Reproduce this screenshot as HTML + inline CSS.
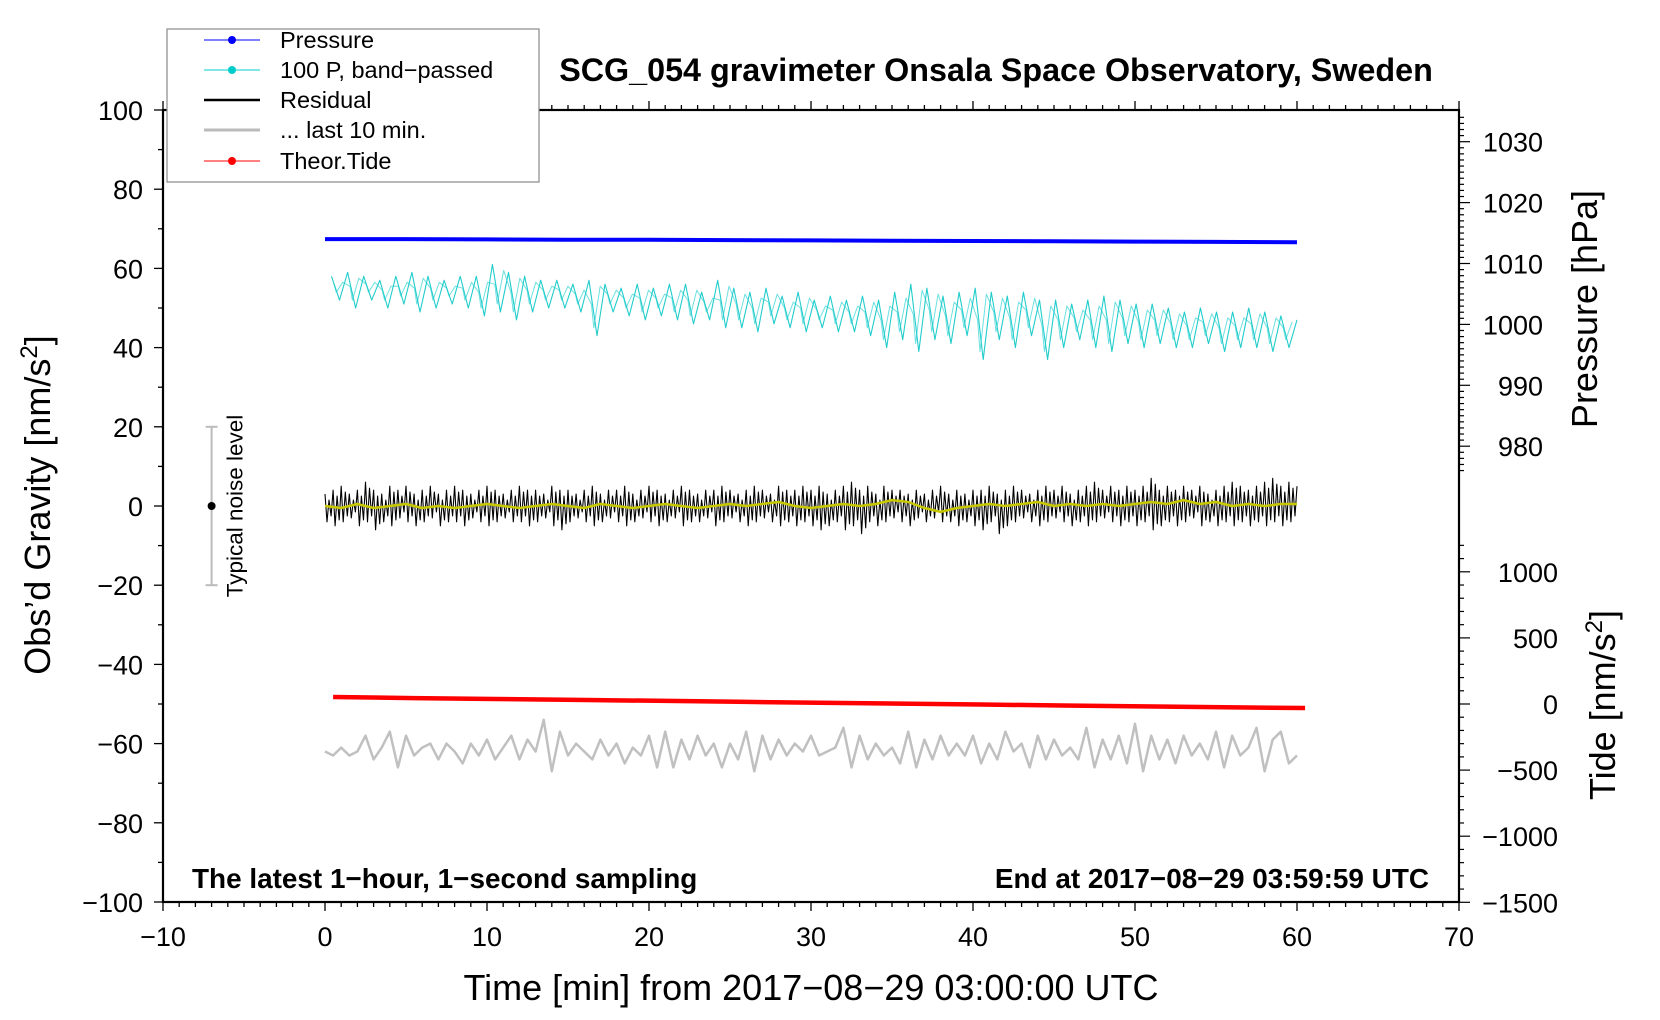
<!DOCTYPE html>
<html><head><meta charset="utf-8"><style>
html,body{margin:0;padding:0;background:#fff;}
svg{display:block;font-family:"Liberation Sans",Arial,sans-serif;}
</style></head><body>
<svg id="chart" width="1660" height="1020" viewBox="0 0 1660 1020" xmlns="http://www.w3.org/2000/svg">
<rect width="1660" height="1020" fill="#fff"/>
<g id="marks"></g>
<g id="axes"></g>
<text x="996" y="81" text-anchor="middle" font-size="32.3" font-weight="bold">SCG_054 gravimeter Onsala Space Observatory, Sweden</text>
<text x="192" y="888" font-size="27.9" font-weight="bold">The latest 1−hour, 1−second sampling</text>
<text x="1429" y="888" text-anchor="end" font-size="27.9" font-weight="bold">End at 2017−08−29 03:59:59 UTC</text>
<text x="811" y="1000" text-anchor="middle" font-size="36">Time [min] from 2017−08−29 03:00:00 UTC</text>
<text transform="translate(50,505) rotate(-90)" text-anchor="middle" font-size="36">Obs’d Gravity [nm/s<tspan font-size="24" dy="-13">2</tspan><tspan dy="13">]</tspan></text>
<text transform="translate(1597,309) rotate(-90)" text-anchor="middle" font-size="36">Pressure [hPa]</text>
<text transform="translate(1615,705) rotate(-90)" text-anchor="middle" font-size="36">Tide [nm/s<tspan font-size="24" dy="-13">2</tspan><tspan dy="13">]</tspan></text>
<g>
<rect x="167" y="29" width="372" height="153" fill="#fff" stroke="#888" stroke-width="1.2"/>
<line x1="204" y1="40" x2="260" y2="40" stroke="#00f" stroke-width="1"/><circle cx="232" cy="40" r="4" fill="#00f"/>
<text x="280" y="48" font-size="23.5">Pressure</text>
<line x1="204" y1="70" x2="260" y2="70" stroke="#00cccc" stroke-width="1"/><circle cx="232" cy="70" r="4" fill="#00cccc"/>
<text x="280" y="78" font-size="23.5">100 P, band−passed</text>
<line x1="204" y1="100" x2="260" y2="100" stroke="#000" stroke-width="2.5"/>
<text x="280" y="108" font-size="23.5">Residual</text>
<line x1="204" y1="130" x2="260" y2="130" stroke="#bbb" stroke-width="3"/>
<text x="280" y="138" font-size="23.5">... last 10 min.</text>
<line x1="204" y1="161" x2="260" y2="161" stroke="#f00" stroke-width="1"/><circle cx="232" cy="161" r="4" fill="#f00"/>
<text x="280" y="169" font-size="23.5">Theor.Tide</text>
</g>
</svg>
<script>
const pressureVals=[1014.0,1014.0,1013.95,1013.9,1013.9,1013.85,1013.8,1013.75,1013.7,1013.65,1013.6,1013.55,1013.5];
const tideVals=[53,45,38,31,24,17,10,3,-4,-11,-18,-25,-30];
const cyanHi=[58,59,58,57,58,59,58,57,58,58,61,59,58,57,57,56,57,56,55,56,55,56,56,54,57,55,54,55,53,54,52,53,52,53,52,54,56,55,53,54,55,54,53,54,52,52,51,52,53,52,51,51,50,49,50,49,49,50,49,48,47];
const cyanLo=[52,50,52,50,51,49,50,51,50,48,49,47,49,50,50,49,43,49,48,47,48,47,46,47,45,45,44,46,45,44,45,44,44,43,40,42,39,42,41,43,37,42,40,43,37,40,42,40,39,41,40,41,40,40,41,39,40,40,39,40,42];
const resHi=[3,4,5,3,4,6,4,3,5,4,5,3,4,5,3,4,5,4,3,4,5,4,3,4,5,4,4,3,5,4,4,3,4,5,3,4,4,5,3,4,5,4,3,4,5,4,3,4,4,5,4,3,4,5,4,3,5,4,4,5,4,5,3,4,5,6,4,5,3,5,4,4,3,4,3,4,5,3,4,3,4,4,5,3,4,5,4,3,4,5,4,5,3,4,5,6,4,5,4,5,4,5,7,4,5,4,5,4,5,3,4,5,6,5,4,5,6,7,5,6,5];
const resLo=[-4,-5,-4,-3,-5,-4,-6,-4,-5,-3,-4,-5,-4,-3,-5,-4,-4,-5,-3,-4,-5,-4,-3,-4,-4,-5,-4,-3,-5,-6,-4,-3,-4,-5,-4,-3,-4,-5,-4,-3,-4,-5,-4,-3,-5,-4,-4,-3,-5,-4,-3,-4,-5,-4,-3,-4,-5,-4,-5,-4,-5,-6,-5,-4,-6,-5,-7,-4,-5,-4,-3,-4,-5,-3,-4,-3,-4,-4,-5,-4,-5,-6,-4,-7,-5,-4,-3,-4,-5,-4,-3,-4,-5,-4,-5,-4,-3,-4,-5,-4,-5,-4,-6,-5,-4,-5,-4,-3,-5,-4,-5,-4,-5,-4,-5,-4,-5,-4,-5,-4,-3];
const smoothVals=[0,-0.5,0.5,-0.5,0,0.5,-0.5,0,-0.5,0,0.5,0,-0.5,0,0.5,0,-0.5,0.5,0,-0.5,0,0.5,0,-0.5,0,0.5,0,0.5,1,0,-0.5,0,0.5,0,0.5,1.5,1,-0.5,-1.5,-0.5,0,0.5,0,0.5,1,0,0.5,0,0.5,0,0.5,1,0.5,1.5,0.5,1,0,0.5,0,0.5,0.5];
const grayVals=[-62,-63,-61,-63,-62,-58,-64,-61,-57,-66,-58,-63,-61,-60,-64,-60,-62,-65,-60,-63,-59,-64,-61,-58,-64,-59,-62,-54,-67,-57,-63,-60,-62,-64,-59,-63,-60,-65,-61,-63,-58,-66,-57,-66,-59,-64,-58,-63,-60,-66,-60,-64,-57,-67,-58,-64,-59,-63,-60,-62,-58,-63,-62,-61,-56,-66,-58,-64,-60,-63,-61,-65,-57,-66,-59,-64,-58,-63,-60,-63,-58,-65,-60,-64,-57,-62,-60,-66,-58,-64,-59,-63,-61,-64,-56,-66,-59,-64,-58,-65,-55,-67,-58,-64,-59,-65,-58,-63,-60,-64,-57,-66,-58,-63,-61,-56,-67,-59,-57,-65,-63];
const xTicks=[-10,0,10,20,30,40,50,60,70];
const yTicks=[100,80,60,40,20,0,-20,-40,-60,-80,-100];
const pTicks=[1030,1020,1010,1000,990,980];
const tTicks=[1000,500,0,-500,-1000,-1500];

const NS='http://www.w3.org/2000/svg';
const X=m=>163+(m+10)*16.2;
const Y=g=>110+(100-g)*3.96;
const YP=p=>141.7+(1030-p)*6.09;
const YT=t=>704-t*0.1322;
const marks=document.getElementById('marks'), axes=document.getElementById('axes');
function mk(tag,attrs,parent){const e=document.createElementNS(NS,tag);for(const k in attrs)e.setAttribute(k,attrs[k]);parent.appendChild(e);return e;}
function poly(pts,stroke,w,name){
  const e=mk('polyline',{points:pts.map(p=>p[0].toFixed(1)+','+p[1].toFixed(1)).join(' '),fill:'none',stroke:stroke,'stroke-width':w,'stroke-linejoin':'round'},marks);
  
  
  return e;
}
poly(pressureVals.map((v,i)=>[X(i*60/(pressureVals.length-1)),YP(v)]),'#00f',4,'pressure-line');
{const n=cyanHi.length;const st=59.6/(n-1);const x0=0.4;
 const pts=[];for(let i=0;i<n;i++){pts.push([X(x0+i*st),Y(cyanHi[i])]);if(i<n-1)pts.push([X(x0+i*st+st/2),Y(cyanLo[i])]);}
 const pts2=[];for(let i=0;i<n-1;i++){pts2.push([X(x0+i*st+0.15),Y((cyanHi[i]+cyanLo[i])/2+1)]);pts2.push([X(x0+i*st+st*0.3),Y(cyanLo[i]+2)]);pts2.push([X(x0+i*st+st*0.7),Y(cyanHi[i]-1.5)]);}
 poly(pts2,'#6ee0e0',1,'bandpassed-pressure-line-2');
 poly(pts,'#22cccc',1.1,'bandpassed-pressure-line');}
{const pts=[];const n=resHi.length;const st=60/(n-1);
 for(let i=0;i<n;i++){pts.push([X(i*st),Y(resHi[i])]);if(i<n-1){pts.push([X(i*st+st/4),Y(resLo[i])]);pts.push([X(i*st+st/2),Y(resHi[i]-1.5)]);pts.push([X(i*st+st*0.75),Y(resLo[i]+1.5)]);}}
 poly(pts,'#000',1.1,'residual-line');}
poly(smoothVals.map((v,i)=>[X(i*60/(smoothVals.length-1)),Y(v)]),'#c8c800',2.5,'residual-smoothed-line');
poly(tideVals.map((v,i)=>[X(0.5+i*5),YT(v)]),'#f00',4.5,'tide-line');
poly(grayVals.map((v,i)=>[X(i*60/(grayVals.length-1)),Y(v)]),'#c0c0c0',2.5,'last-10-min-line');
{const g=mk('g',{},marks);
 
 
 mk('line',{x1:X(-7),x2:X(-7),y1:Y(20),y2:Y(-20),stroke:'#bbb','stroke-width':2},g);
 mk('line',{x1:X(-7)-6,x2:X(-7)+6,y1:Y(20),y2:Y(20),stroke:'#bbb','stroke-width':2},g);
 mk('line',{x1:X(-7)-6,x2:X(-7)+6,y1:Y(-20),y2:Y(-20),stroke:'#bbb','stroke-width':2},g);
 mk('circle',{cx:X(-7),cy:Y(0),r:4,fill:'#000'},g);
 const t=mk('text',{transform:`translate(${X(-5.1)},${Y(0)}) rotate(-90)`,'text-anchor':'middle','font-size':22.5},g);
 t.textContent='Typical noise level';
 
 }
const L=X(-10),R=X(70),T=Y(100),B=Y(-100);
mk('rect',{x:L,y:T,width:R-L,height:B-T,fill:'none',stroke:'#000','stroke-width':2.2},axes);
for(let m=-10;m<=70;m++){const maj=m%10===0;const len=maj?9:5;
 mk('line',{x1:X(m),x2:X(m),y1:B,y2:B+len,stroke:'#000','stroke-width':1.3},axes);
 mk('line',{x1:X(m),x2:X(m),y1:T,y2:T-len,stroke:'#000','stroke-width':1.3},axes);}
xTicks.forEach(v=>{const t=mk('text',{x:X(v),y:946,'text-anchor':'middle','font-size':27},axes);t.textContent=(v<0?'−':'')+Math.abs(v);
 
 });
for(let g=-100;g<=100;g+=10){const len=g%20===0?9:5;mk('line',{x1:L,x2:L-len,y1:Y(g),y2:Y(g),stroke:'#000','stroke-width':1.3},axes);}
yTicks.forEach(v=>{const t=mk('text',{x:L-20,y:Y(v)+10,'text-anchor':'end','font-size':27},axes);t.textContent=(v<0?'−':'')+Math.abs(v);
 
 });
for(let p=976;p<=1034;p++){if(YP(p)<T)continue;const len=p%10===0?11:5;mk('line',{x1:R,x2:R+len,y1:YP(p),y2:YP(p),stroke:'#000','stroke-width':1.2},axes);}
pTicks.forEach(v=>{const t=mk('text',{x:1543,y:YP(v)+10,'text-anchor':'end','font-size':27},axes);t.textContent=v;
 
 });
for(let v=-1500;v<=1200;v+=100){const len=v%500===0?11:5;mk('line',{x1:R,x2:R+len,y1:YT(v),y2:YT(v),stroke:'#000','stroke-width':1.2},axes);}
tTicks.forEach(v=>{const t=mk('text',{x:1558,y:YT(v)+10,'text-anchor':'end','font-size':27},axes);t.textContent=(v<0?'−':'')+Math.abs(v);
 
 });
</script>
</body></html>
